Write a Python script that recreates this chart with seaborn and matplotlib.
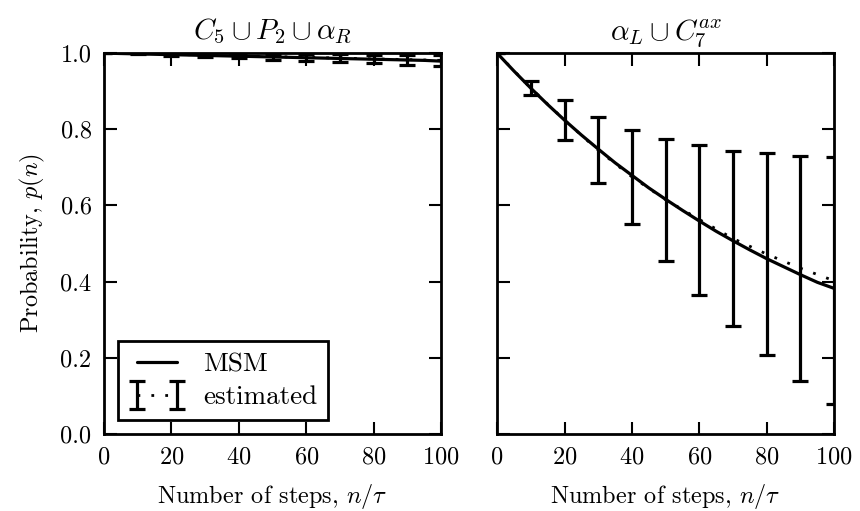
import matplotlib
matplotlib.use("Agg")
import matplotlib.pyplot as plt
import pandas as pd
import seaborn as sns

# MSM prediction of the survival probability, sampled every 5 steps
steps_msm = [0, 5, 10, 15, 20, 25, 30, 35, 40, 45, 50,
             55, 60, 65, 70, 75, 80, 85, 90, 95, 100]
msm_left = [1.000, 0.999, 0.998, 0.997, 0.996, 0.995, 0.994, 0.993, 0.992, 0.991, 0.990,
            0.989, 0.988, 0.987, 0.986, 0.985, 0.984, 0.983, 0.982, 0.981, 0.979]
msm_right = [1.000, 0.953, 0.908, 0.865, 0.824, 0.785, 0.748, 0.712, 0.679, 0.646, 0.616,
             0.587, 0.559, 0.532, 0.507, 0.483, 0.460, 0.439, 0.418, 0.398, 0.382]

# Estimated probabilities from trajectories, every 10 steps, with error bars
steps_est = [0, 10, 20, 30, 40, 50, 60, 70, 80, 90, 100]
est_left = [1.000, 0.999, 0.997, 0.995, 0.993, 0.991, 0.989, 0.987, 0.985, 0.983, 0.981]
err_left = [0.000, 0.002, 0.004, 0.005, 0.007, 0.008, 0.009, 0.010, 0.011, 0.013, 0.014]
est_right = [1.000, 0.908, 0.824, 0.745, 0.675, 0.615, 0.563, 0.513, 0.472, 0.435, 0.402]
err_right = [0.000, 0.018, 0.053, 0.086, 0.123, 0.160, 0.197, 0.231, 0.265, 0.295, 0.324]

titles = [r"$C_5 \cup P_2 \cup \alpha_R$", r"$\alpha_L \cup C_7^{ax}$"]
x_ticks = [0, 20, 40, 60, 80, 100]
y_ticks = [0.0, 0.2, 0.4, 0.6, 0.8, 1.0]

sns.set_style("ticks")
plt.rcParams.update({
    "font.family": "serif",
    "font.serif": ["cmr10", "DejaVu Serif"],
    "mathtext.fontset": "cm",
    "axes.formatter.use_mathtext": True,
    "axes.unicode_minus": False,
    "axes.edgecolor": "black",
    "axes.linewidth": 2.0,
    "text.color": "black",
    "axes.labelcolor": "black",
    "xtick.color": "black",
    "ytick.color": "black",
})

FS = 17.5
fig, axes = plt.subplots(1, 2, figsize=(8.6, 5.11), dpi=100, sharey=True)
fig.subplots_adjust(left=0.121, right=0.970, bottom=0.151, top=0.896, wspace=0.166)

panels = [
    (msm_left, est_left, err_left),
    (msm_right, est_right, err_right),
]

for i, (ax, (msm, est, err), title) in enumerate(zip(axes, panels, titles)):
    df_msm = pd.DataFrame({"n": steps_msm, "p": msm})
    sns.lineplot(data=df_msm, x="n", y="p", ax=ax, color="black", linewidth=2.3,
                 label="MSM" if i == 0 else None, legend=False)
    ax.errorbar(steps_est, est, yerr=err, color="black", linestyle=(0, (1, 4)),
                linewidth=2.0, elinewidth=2.3, capsize=5.8, capthick=2.3,
                label="estimated" if i == 0 else None)

    ax.set_xlim(0, 100)
    ax.set_ylim(0, 1.0)
    ax.set_xticks(x_ticks)
    ax.set_yticks(y_ticks)
    ax.set_yticklabels([f"{v:.1f}" for v in y_ticks])
    ax.tick_params(direction="in", top=True, right=True, length=9, width=1.5,
                   labelsize=FS, pad=9)
    ax.set_xlabel(r"Number of steps, $n/\tau$", fontsize=FS, labelpad=10)
    ax.set_title(title, fontsize=21, pad=10)
    for s in ax.spines.values():
        s.set_visible(True)
        s.set_linewidth(2.0)

axes[0].set_ylabel(r"Probability, $p(n)$", fontsize=FS, labelpad=10)
axes[1].set_ylabel("")
axes[1].tick_params(labelleft=False)

leg = axes[0].legend(loc="lower left", fontsize=19.5, frameon=True, fancybox=False,
                     numpoints=2, handlelength=2.1, handletextpad=0.65,
                     labelspacing=0.35, borderpad=0.4, borderaxespad=0.5)
leg.get_frame().set_edgecolor("black")
leg.get_frame().set_linewidth(2.0)
leg.get_frame().set_alpha(1.0)

fig.savefig("out.png", dpi=100)
